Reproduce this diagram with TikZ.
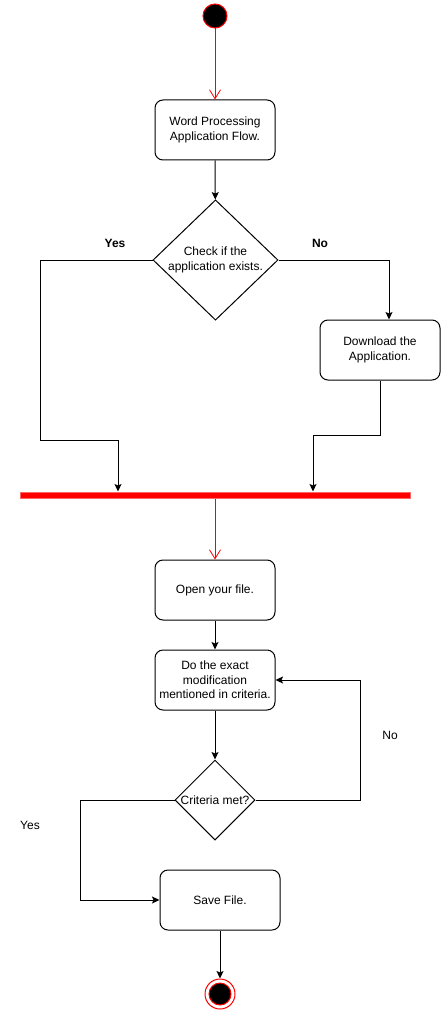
\documentclass[tikz,border=0pt]{standalone}
\usepackage{fontspec}
\setmainfont{Liberation Sans}
\usepackage{tikz}
\usetikzlibrary{arrows.meta}
\usetikzlibrary{shapes.geometric}
\definecolor{barline}{HTML}{FF6666}

\begin{document}
\begin{tikzpicture}[x=1pt,y=-1pt,line width=1pt,
  font=\fontsize{12}{14.4}\selectfont,
  activity/.style={draw,rounded corners=8pt,minimum width=120pt,minimum height=60pt,align=center,inner sep=2pt},
  decision/.style={draw,diamond,inner sep=0pt,align=center},
  flow/.style={-{Stealth[length=7.5pt,width=7pt,inset=1.5pt]}},
  redflow/.style={red,-{Straight Barb[length=9pt,width=11pt,line width=0.8pt]}}]
\useasboundingbox (0,0) rectangle (441,1011);
%% nodes
\node[draw=red,fill=black,circle,minimum size=24pt,inner sep=0pt] (start) at (215,16) {};
\node[activity] (wp) at (215,130) {Word Processing\\Application Flow.};
\node[decision,minimum width=125pt,minimum height=120pt] (check) at (215.5,260) {Check if the\\application exists.};
\node[activity] (download) at (380,350) {Download the\\Application.};
\node[fill=red,draw=barline,minimum width=390pt,minimum height=6pt,inner sep=0pt] (bar) at (215,495) {};
\node[activity] (open) at (215,590) {Open your file.};
\node[activity] (modify) at (215,680) {Do the exact\\modification\\mentioned in criteria.};
\node[decision,minimum width=80pt,minimum height=80pt] (met) at (215,800) {Criteria met?};
\node[activity] (save) at (220,900) {Save File.};
\node[draw=red,circle,minimum size=30pt,inner sep=0pt] (finish) at (220,994) {};
\node[draw=red,fill=black,circle,minimum size=22pt,inner sep=0pt] (finishdot) at (finish) {};
\node (yesA) at (115,243) {\textbf{Yes}};
\node (noA) at (320,243) {\textbf{No}};
\node (noB) at (390,735) {No};
\node (yesB) at (30,825) {Yes};
%% connectors
\coordinate (yesbend) at (40,440);
\coordinate (yesdrop) at (118,440);
\coordinate (nobend) at (380,435);
\coordinate (nodrop) at (313,435);
\coordinate (loopback) at (360,680);
\coordinate (yesturn) at (80,900);
\draw[redflow] (start) -- (wp);
\draw[flow] (wp) -- (check);
\draw[flow] (check.west) -| (yesbend) -- (yesdrop) -- (yesdrop |- bar.north);
\draw[flow] (check.east) -| ([xshift=9pt]download.north);
\draw[flow] (download.south) -- (nobend) -- (nodrop) -- (nodrop |- bar.north);
\draw[redflow] (bar.south) -- (open);
\draw[flow] (open) -- (modify);
\draw[flow] (modify) -- (met);
\draw[flow] (met.east) -| (loopback) -- (modify.east);
\draw[flow] (met.west) -| (yesturn) -- (save.west);
\draw[flow] (save) -- (finish);
\end{tikzpicture}
\end{document}
